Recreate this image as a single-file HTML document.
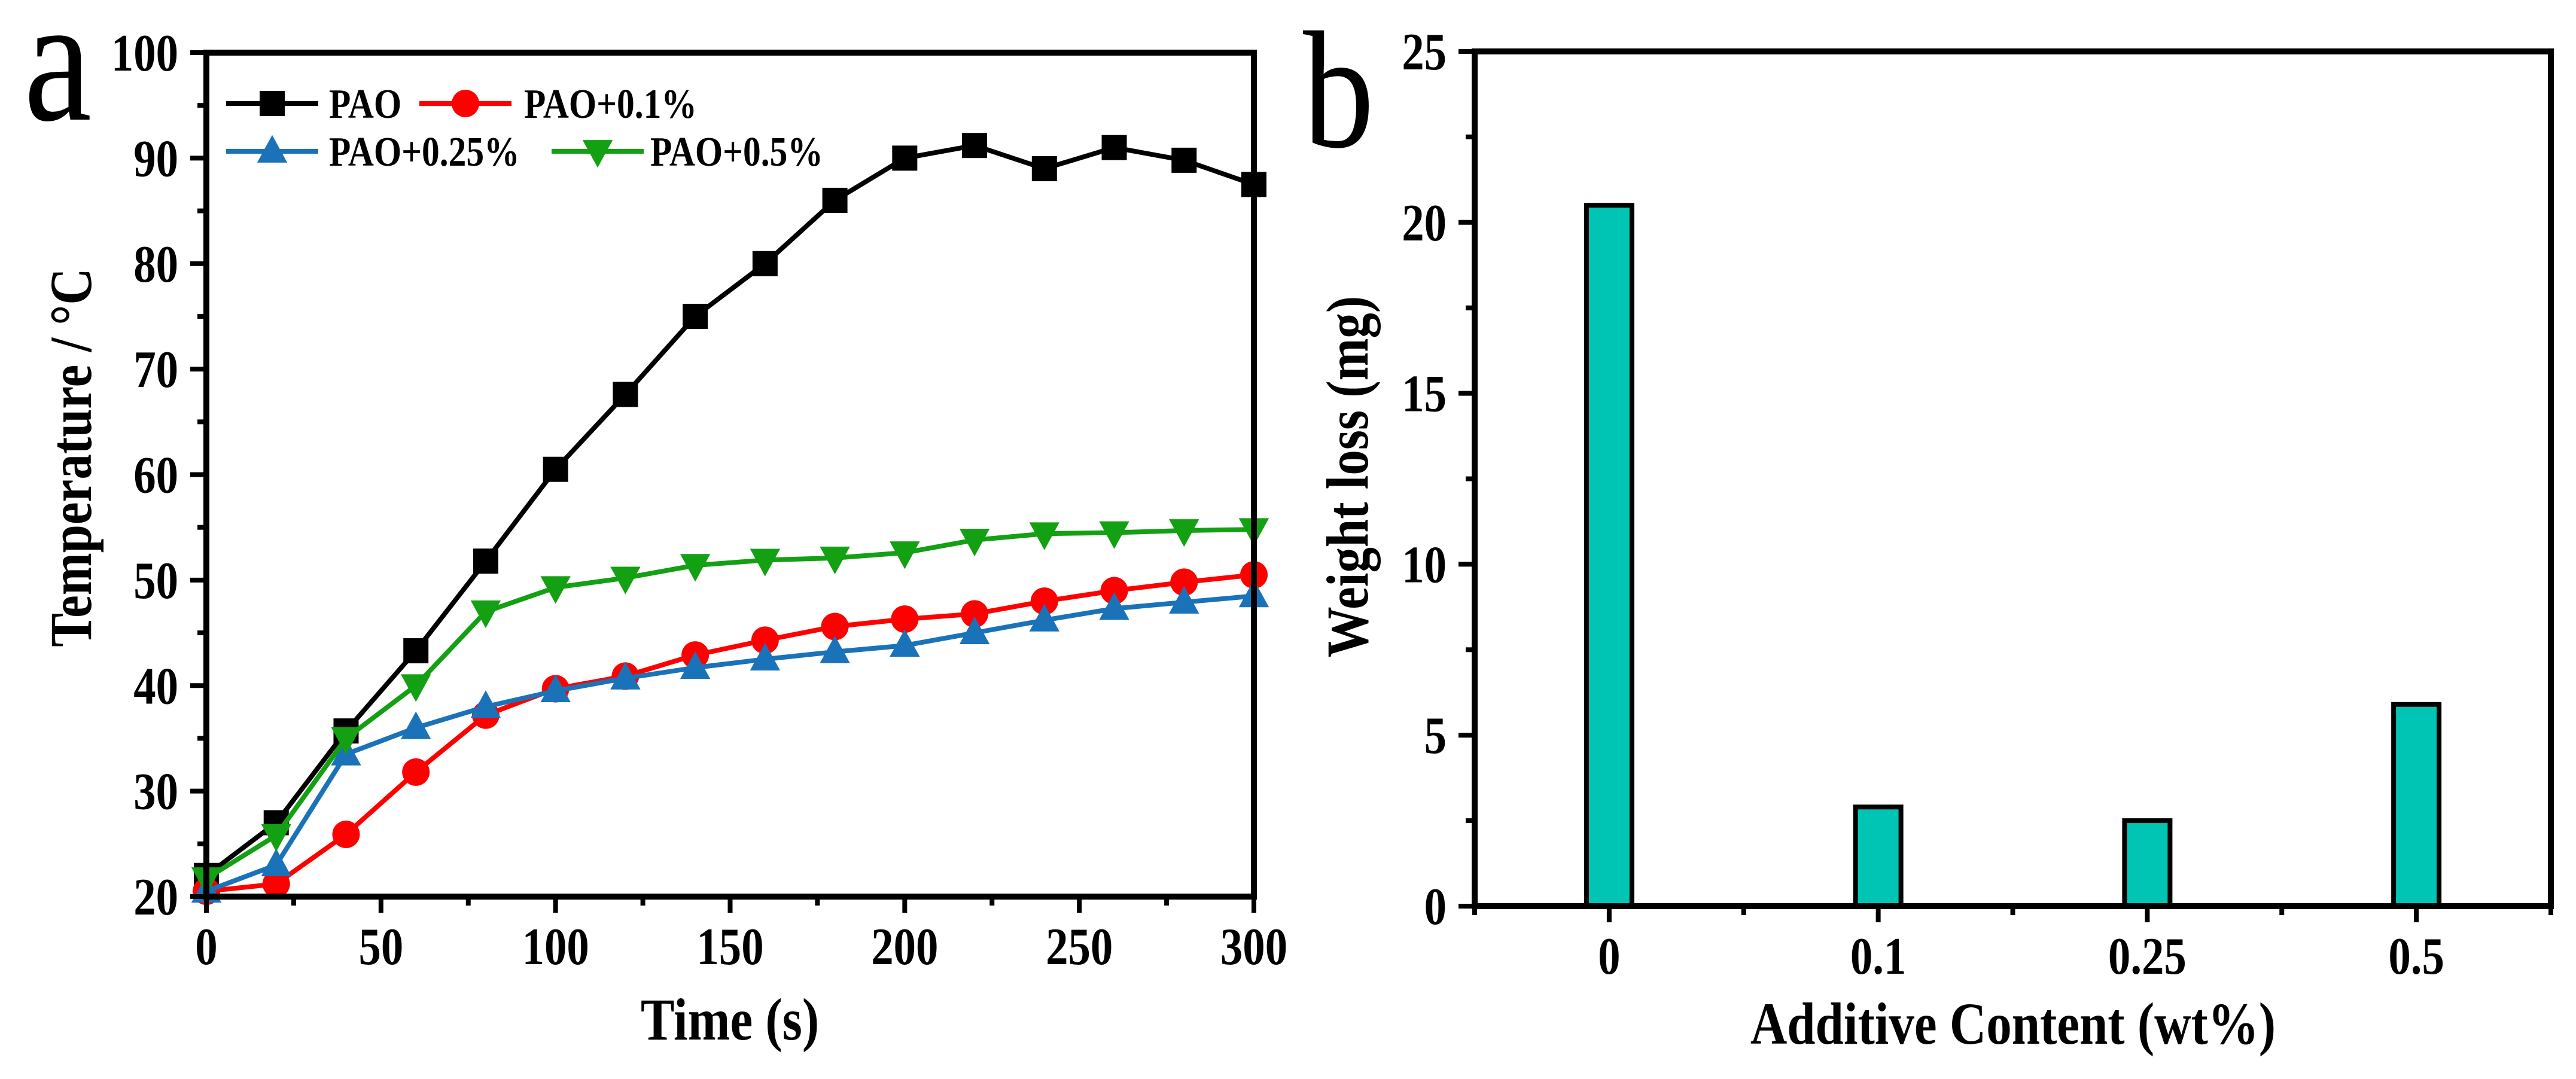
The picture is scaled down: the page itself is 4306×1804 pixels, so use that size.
<!DOCTYPE html>
<html><head><meta charset="utf-8"><style>
html,body{margin:0;padding:0;background:#fff;}
svg{display:block;font-family:"Liberation Serif",serif;font-weight:bold;}
</style></head><body>
<svg id="fig" width="4306" height="1804" viewBox="0 0 4306 1804" xmlns="http://www.w3.org/2000/svg">
<text transform="translate(40,200) scale(0.85,1)" font-size="300" font-weight="normal">a</text>
<text transform="translate(2178,245) scale(0.85,1)" font-size="280" font-weight="normal">b</text>
<g id="pa"></g>
<g id="pb"></g>
</svg>
<script>
// Panel a data
const timeX = [0,20,40,60,80,100,120,140,160,180,200,220,240,260,280,300];
const seriesNames = ["PAO","PAO+0.1%","PAO+0.25%","PAO+0.5%"];
const pao = [22,27,35.7,43.3,51.8,60.5,67.6,75,80,86,90,91.2,89,91,89.8,87.5];
const pao01 = [20.5,21.2,25.9,31.8,37.2,39.7,40.9,42.9,44.3,45.6,46.3,46.8,48,49,49.8,50.5];
const pao025 = [20.5,23,33.5,36,38,39.5,40.7,41.7,42.5,43.2,43.8,45,46.2,47.3,47.9,48.5];
const pao05 = [21.7,25.8,35,40,47,49.3,50.2,51.4,51.9,52.1,52.6,53.8,54.4,54.5,54.7,54.8];
const xTicksA = [0,50,100,150,200,250,300];
const yTicksA = [20,30,40,50,60,70,80,90,100];
// Panel b data
const categories = ["0","0.1","0.25","0.5"];
const weightLoss = [20.5,2.9,2.5,5.9];
const yTicksB = [0,5,10,15,20,25];

const NS="http://www.w3.org/2000/svg";
const SX=0.85;
function mk(parent,tag,attrs,text){const e=document.createElementNS(NS,tag);for(const k in attrs)e.setAttribute(k,attrs[k]);if(text!==undefined)e.textContent=text;parent.appendChild(e);return e;}
function st(parent,x,y,size,anchor,str,rot){
  const tr=rot?`translate(${x},${y}) rotate(-90) scale(${SX},1)`:`translate(${x},${y}) scale(${SX},1)`;
  return mk(parent,'text',{transform:tr,'font-size':size,'text-anchor':anchor},str);
}

// ---- Panel A ----
const A={x0:345,x1:2096,y0:1499,y1:88};
const ax=v=>A.x0+(v-0)/300*(A.x1-A.x0);
const ay=v=>A.y0-(v-20)/80*(A.y0-A.y1);
const pa=document.getElementById('pa');
const colors=["#000000","#ff0000","#1a73b8","#13a013"];
const data=[pao,pao01,pao025,pao05];
const markers=["square","circle","up","down"];
function marker(g,type,x,y,c,s){
  let m;
  if(type==="square") m=mk(g,'rect',{x:x-s/2,y:y-s/2,width:s,height:s,fill:c});
  else if(type==="circle") m=mk(g,'circle',{cx:x,cy:y,r:s/2+2,fill:c});
  else if(type==="up") m=mk(g,'polygon',{points:`${x},${y-s*0.65} ${x-s*0.6},${y+s*0.45} ${x+s*0.6},${y+s*0.45}`,fill:c});
  else m=mk(g,'polygon',{points:`${x},${y+s*0.65} ${x-s*0.6},${y-s*0.45} ${x+s*0.6},${y-s*0.45}`,fill:c});
  return m;
}
data.forEach((arr,si)=>{
  const g=mk(pa,'g',{});
  
  
  const pts=arr.map((v,i)=>ax(timeX[i])+','+ay(v)).join(' ');
  const ln=mk(g,'polyline',{points:pts,fill:'none',stroke:colors[si],'stroke-width':8,'stroke-linejoin':'round'});
  
  
  arr.forEach((v,i)=>{
    const m=marker(g,markers[si],ax(timeX[i]),ay(v),colors[si],42);
    
    
  });
});
const fa=mk(pa,'rect',{x:A.x0,y:A.y1,width:A.x1-A.x0,height:A.y0-A.y1,fill:'none',stroke:'#000','stroke-width':10});


for(let v=0;v<=300;v+=25){
  const major=v%50===0;
  mk(pa,'line',{x1:ax(v),x2:ax(v),y1:A.y0,y2:A.y0+(major?27:15),stroke:'#000','stroke-width':8});
}
xTicksA.forEach(v=>{
  const t=st(pa,ax(v),1612,88,'middle',String(v));
  
  
});
for(let v=20;v<=100;v+=5){
  const major=v%10===0;
  mk(pa,'line',{x1:A.x0,x2:A.x0-(major?27:15),y1:ay(v),y2:ay(v),stroke:'#000','stroke-width':8});
}
yTicksA.forEach(v=>{
  const t=st(pa,298,ay(v)+30,88,'end',String(v));
  
  
});
let t=st(pa,1220,1738,100,'middle','Time (s)');


t=st(pa,152,765,100,'middle','Temperature / °C',true);


const legPos=[[378,532,173,550],[701,855,173,876],[378,532,253,550],[922,1076,253,1087]];
legPos.forEach((p,si)=>{
  const g=mk(pa,'g',{});
  
  
  mk(g,'line',{x1:p[0],x2:p[1],y1:p[2],y2:p[2],stroke:colors[si],'stroke-width':8});
  marker(g,markers[si],(p[0]+p[1])/2,p[2],colors[si],42);
  st(g,p[3],p[2]+24,70,'start',seriesNames[si]);
});

// ---- Panel B ----
const B={x0:2465,x1:4264,y0:1515,y1:86};
const nC=categories.length;
const bx=i=>B.x0+(i+0.5)/nC*(B.x1-B.x0);
const by=v=>B.y0-v/25*(B.y0-B.y1);
const pb=document.getElementById('pb');
weightLoss.forEach((v,i)=>{
  const r=mk(pb,'rect',{x:bx(i)-38,y:by(v),width:76,height:B.y0-by(v),fill:'#00c4b4',stroke:'#000','stroke-width':8});
  
  
});
const fb=mk(pb,'rect',{x:B.x0,y:B.y1,width:B.x1-B.x0,height:B.y0-B.y1,fill:'none',stroke:'#000','stroke-width':10});


for(let k=0;k<=nC;k++){
  const x=B.x0+k/nC*(B.x1-B.x0);
  mk(pb,'line',{x1:x,x2:x,y1:B.y0,y2:B.y0+15,stroke:'#000','stroke-width':8});
}
categories.forEach((c,i)=>{
  mk(pb,'line',{x1:bx(i),x2:bx(i),y1:B.y0,y2:B.y0+27,stroke:'#000','stroke-width':8});
  const tt=st(pb,bx(i),1628,88,'middle',c);
  
  
});
for(let v=0;v<=25;v+=2.5){
  const major=v%5===0;
  mk(pb,'line',{x1:B.x0,x2:B.x0-(major?27:15),y1:by(v),y2:by(v),stroke:'#000','stroke-width':8});
}
yTicksB.forEach(v=>{
  const tt=st(pb,2418,by(v)+30,88,'end',String(v));
  
  
});
t=st(pb,3365,1745,100,'middle','Additive Content (wt%)');


t=st(pb,2286,797,100,'middle','Weight loss (mg)',true);


</script>
</body></html>
